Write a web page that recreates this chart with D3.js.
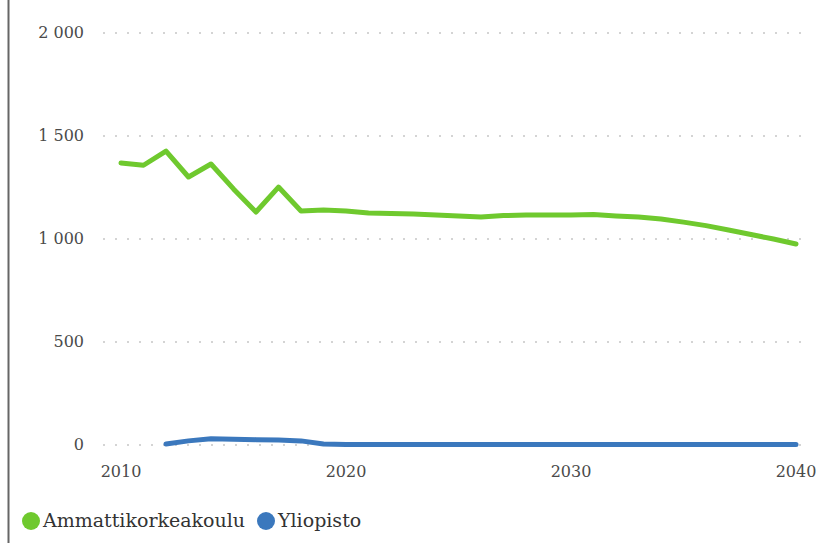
<!DOCTYPE html>
<html>
<head>
<meta charset="utf-8">
<script src="https://cdn.jsdelivr.net/npm/d3@7"></script>
<style>
  body { margin: 0; background: #fff; }
  svg { display: block; }
  .tick-label { font-family: "DejaVu Serif", Georgia, serif; font-size: 16px; fill: #4a4a4a; }
  .legend-label { font-family: "DejaVu Serif", Georgia, serif; font-size: 19px; fill: #333; }
</style>
</head>
<body>
<div id="chart"></div>
<script>
var years = d3.range(2010, 2041);

var amk = [
  1369, 1358, 1427, 1301, 1364, 1243, 1131, 1252, 1136, 1141,
  1136, 1126, 1124, 1121, 1116, 1112, 1107, 1114, 1116, 1116,
  1116, 1119, 1112, 1107, 1097, 1082, 1065, 1044, 1022, 1000,
  976
];

// yliopisto starts from 2012
var yo = [
  null, null, 5, 20, 30, 28, 26, 24, 20, 5,
  3, 3, 3, 3, 3, 3, 3, 3, 3, 3,
  3, 3, 3, 3, 3, 3, 3, 3, 3, 3,
  3
];

var seriesNames = ["Ammattikorkeakoulu", "Yliopisto"];
var seriesColors = ["#6fc92e", "#3b78bd"];
var yTicks = [0, 500, 1000, 1500, 2000];
var xTicks = [2010, 2020, 2030, 2040];

const w = 816;
const h = 543;

var svg = d3
  .select("#chart")
  .append("svg")
  .attr("width", w)
  .attr("height", h);

var x = d3.scaleLinear().domain([2010, 2040]).range([121, 796]);
var y = d3.scaleLinear().domain([0, 2000]).range([445, 33]);

var fmt = d3.formatLocale({ decimal: ",", thousands: "\u00a0", grouping: [3], currency: ["", "€"] }).format(",d");

// left border line
svg
  .append("line")
  .attr("x1", 8.5)
  .attr("x2", 8.5)
  .attr("y1", 0)
  .attr("y2", h)
  .attr("stroke", "#666")
  .attr("stroke-width", 2);

//dotted grid lines
svg
  .append("g")
  .selectAll("line")
  .data(yTicks)
  .enter()
  .append("line")
  .attr("x1", 103)
  .attr("x2", 808)
  .attr("y1", function (d) { return y(d); })
  .attr("y2", function (d) { return y(d); })
  .attr("stroke", "#d4d4d4")
  .attr("stroke-width", 2)
  .attr("stroke-dasharray", "2,10");

svg
  .append("g")
  .selectAll("text")
  .data(yTicks)
  .enter()
  .append("text")
  .attr("class", "tick-label")
  .attr("x", 84)
  .attr("y", function (d) { return y(d) + 5; })
  .attr("text-anchor", "end")
  .text(function (d) { return fmt(d); });

svg
  .append("g")
  .selectAll("text")
  .data(xTicks)
  .enter()
  .append("text")
  .attr("class", "tick-label")
  .attr("x", function (d) { return x(d); })
  .attr("y", 477)
  .attr("text-anchor", "middle")
  .text(function (d) { return d; });

var line = d3
  .line()
  .defined(function (d) { return d[1] != null; })
  .x(function (d) { return x(d[0]); })
  .y(function (d) { return y(d[1]); });

[amk, yo].forEach(function (vals, i) {
  svg
    .append("path")
    .datum(years.map(function (yr, j) { return [yr, vals[j]]; }))
    .attr("d", line)
    .attr("fill", "none")
    .attr("stroke", seriesColors[i])
    .attr("stroke-width", 5)
    .attr("stroke-linejoin", "round")
    .attr("stroke-linecap", "round");
});

// legend
var legendX = [31, 266];
var lg = svg
  .append("g")
  .selectAll("g")
  .data(seriesNames)
  .enter()
  .append("g")
  .attr("transform", function (d, i) { return "translate(" + legendX[i] + ",521)"; });

lg.append("circle")
  .attr("r", 9)
  .attr("fill", function (d, i) { return seriesColors[i]; });

lg.append("text")
  .attr("class", "legend-label")
  .attr("x", 12)
  .attr("y", 6)
  .text(function (d) { return d; });
</script>
</body>
</html>
